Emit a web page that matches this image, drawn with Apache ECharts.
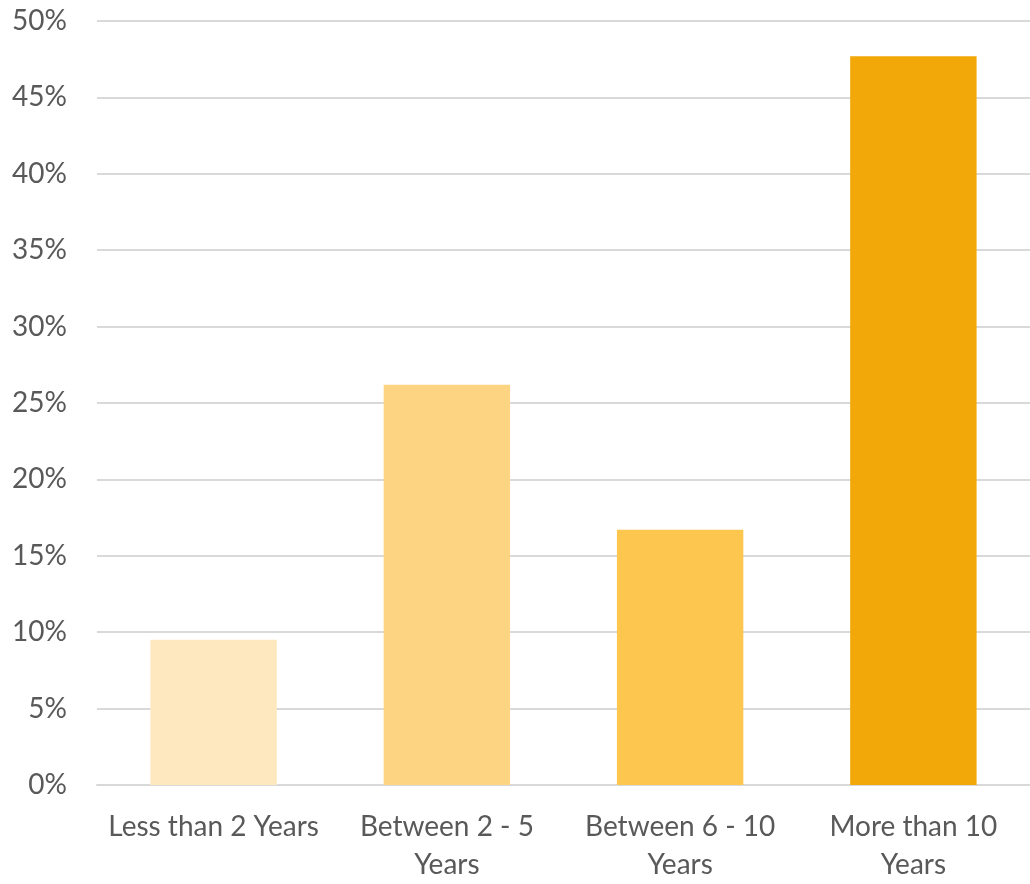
<!DOCTYPE html>
<html><head><meta charset="utf-8">
<script src="https://cdn.jsdelivr.net/npm/echarts@6/dist/echarts.min.js"></script>
<style>html,body{margin:0;padding:0;background:#fff;overflow:hidden}#c{width:1030px;height:884px}</style>
</head><body><div id="c"></div>
<script>
const categories = ['Less than 2 Years', 'Between 2 - 5\nYears', 'Between 6 - 10\nYears', 'More than 10\nYears'];
const values = [9.5, 26.2, 16.7, 47.7];
const colors = ['#FEE8BF', '#FDD582', '#FCC64F', '#F1A808'];
const yTicks = [0, 5, 10, 15, 20, 25, 30, 35, 40, 45, 50];

const chart = echarts.init(document.getElementById('c'), null, { width: 1030, height: 884 });
chart.setOption({
  animation: false,
  grid: { left: 97, width: 937, top: 21, height: 768, containLabel: false },
  xAxis: {
    type: 'category', data: categories,
    axisLine: { show: true, lineStyle: { color: '#d9d9d9', width: 2 } },
    axisTick: { show: false },
    axisLabel: { color: '#595959', fontFamily: 'Lato', fontSize: 28, lineHeight: 38, margin: 23, interval: 0 }
  },
  yAxis: {
    type: 'value', min: yTicks[0], max: yTicks[yTicks.length - 1], interval: 5,
    axisLine: { show: false }, axisTick: { show: false },
    splitLine: { lineStyle: { color: '#d9d9d9', width: 2 } },
    axisLabel: { color: '#595959', fontFamily: 'Lato', fontSize: 28, margin: 30, formatter: v => v + '%' }
  },
  series: [{
    type: 'bar',
    data: values.map((v, i) => ({ value: v, itemStyle: { color: colors[i] } })),
    barCategoryGap: '45.8%'
  }]
});
</script></body></html>
